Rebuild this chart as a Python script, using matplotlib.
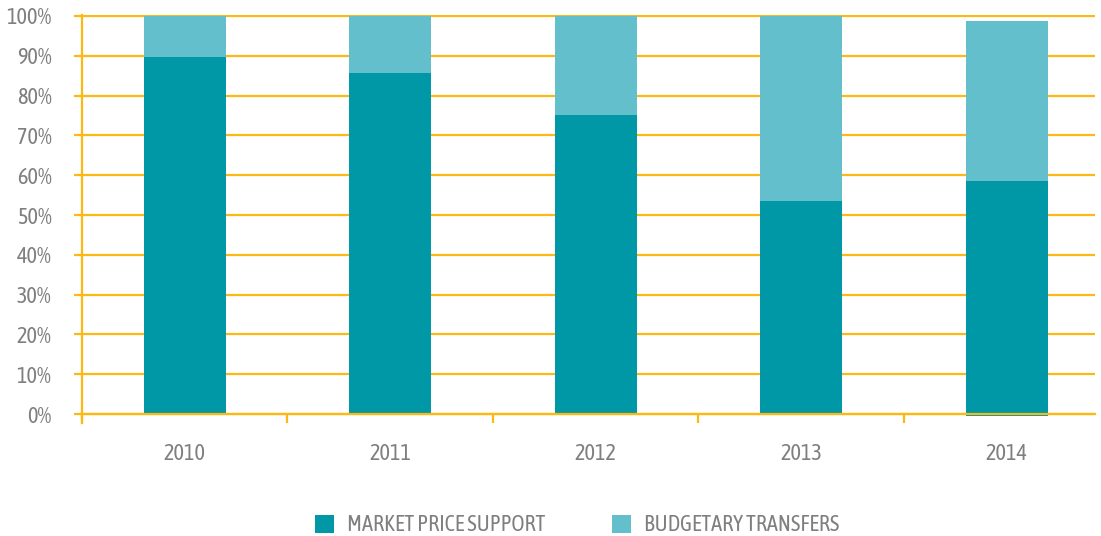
import matplotlib
matplotlib.use("Agg")
import matplotlib.pyplot as plt
from matplotlib import font_manager as fm
import numpy as np

years = ["2010", "2011", "2012", "2013", "2014"]
market_price_support = [89.7, 85.7, 75.1, 53.5, 59.0]
budgetary_transfers = [10.3, 14.3, 24.9, 46.5, 40.3]
mps_base = [0, 0, 0, 0, -0.5]  # 2014 dips a bit below zero
yticks = list(range(0, 101, 10))

teal = '#0097A7'
light = '#63BFCC'
gold = '#FDB913'
grey = '#7F7F7F'

# look for any narrow / condensed face, the original uses a condensed font
narrow = [f for f in fm.fontManager.ttflist
          if f.stretch in ('condensed', 'semi-condensed', 'extra-condensed', 'ultra-condensed')
          or 'Narrow' in f.name or 'Condensed' in f.name]
if narrow:
    narrow.sort(key=lambda f: (f.style != 'normal', abs((f.weight if isinstance(f.weight, int) else 400) - 300)))
    fam, stretch, fsize = narrow[0].name, narrow[0].stretch, 16
else:
    fam, stretch, fsize = 'Roboto', 'normal', 14
plt.rcParams['font.family'] = [fam, 'DejaVu Sans']
plt.rcParams['font.stretch'] = stretch

fig = plt.figure(figsize=(11.01, 5.36), dpi=100)
ax = fig.add_axes([82/1101, (536-423)/536, (1095-82)/1101, (423-15)/536])

x = np.arange(len(years))
ax.bar(x, market_price_support, bottom=mps_base, width=0.4, color=teal,
       label='MARKET PRICE SUPPORT', zorder=2)
top = np.array(market_price_support) + np.array(mps_base)
ax.bar(x, budgetary_transfers, bottom=top, width=0.4, color=light,
       label='BUDGETARY TRANSFERS', zorder=2)

ax.set_xlim(-0.5, 4.43)
ax.set_ylim(-2.26, 100.25)
ax.set_yticks(yticks)
ax.set_yticklabels([f'{v}%' for v in yticks])
ax.yaxis.grid(True, color=gold, linewidth=1.6)
ax.set_axisbelow(True)

for s in ['top', 'right']:
    ax.spines[s].set_visible(False)
ax.spines['left'].set_color(gold)
ax.spines['left'].set_linewidth(1.6)
ax.spines['bottom'].set_position(('data', 0))
ax.spines['bottom'].set_color(gold)
ax.spines['bottom'].set_linewidth(1.6)
ax.spines['bottom'].set_zorder(3)

ax.set_xticks(np.arange(-0.5, 4.5, 1.0))
ax.set_xticklabels([])
ax.set_xticks(x, minor=True)
ax.set_xticklabels(years, minor=True)
ax.tick_params(axis='x', which='major', direction='out', length=6.5, width=1.6, color=gold)
ax.tick_params(axis='x', which='minor', length=0, pad=21, labelsize=fsize, labelcolor=grey)
ax.tick_params(axis='y', direction='out', length=6, width=1.6, color=gold,
               labelsize=fsize, labelcolor=grey, pad=16)

fig.legend(loc='lower center', bbox_to_anchor=(0.524, -0.038), ncol=2, frameon=False,
           fontsize=fsize, labelcolor=grey, handlelength=0.85, handleheight=0.85,
           columnspacing=3.0, handletextpad=0.6)

fig.savefig('out.png', dpi=100)
